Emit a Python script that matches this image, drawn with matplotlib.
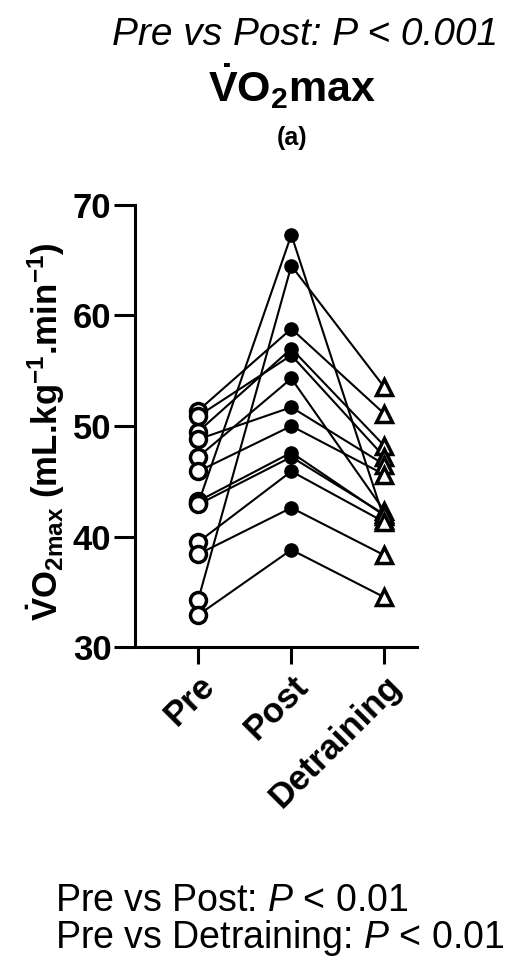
import matplotlib
matplotlib.use('Agg')
import matplotlib.pyplot as plt

plt.rcParams['font.family'] = ['Liberation Sans', 'DejaVu Sans']
plt.rcParams['mathtext.fontset'] = 'custom'
plt.rcParams['mathtext.rm'] = 'Liberation Sans:bold'
plt.rcParams['mathtext.it'] = 'Liberation Sans:italic'
plt.rcParams['mathtext.bf'] = 'Liberation Sans:bold'

# VO2max per participant (mL.kg-1.min-1)
groups = ['Pre', 'Post', 'Detraining']
pre = [43.0, 34.3, 51.4, 49.5, 50.9, 47.2, 48.8, 45.9, 43.2, 42.9, 39.5, 38.4, 32.9]
post = [67.3, 64.5, 58.8, 57.0, 56.4, 54.3, 51.7, 50.0, 47.6, 47.2, 45.9, 42.6, 38.8]
detraining = [41.5, 53.5, 51.1, 48.2, 47.2, 42.3, 46.5, 45.6, 41.9, 42.0, 41.3, 38.3, 34.5]

fig = plt.figure(figsize=(5.2, 9.66), dpi=100, facecolor='white')
ax = fig.add_axes([0.2596, 0.3302, 0.5423, 0.4576])

xs = [0, 1, 2]
for a, b, c in zip(pre, post, detraining):
    ax.plot(xs, [a, b, c], color='black', lw=1.5, zorder=2)

ax.plot([0] * len(pre), pre, ls='none', marker='o', ms=11.5, mfc='white',
        mec='black', mew=2.5, zorder=3)
ax.plot([1] * len(post), post, ls='none', marker='o', ms=9.5, mfc='black',
        mec='black', zorder=3)
ax.plot([2] * len(detraining), detraining, ls='none', marker='^', ms=11.5,
        mfc='white', mec='black', mew=2.5, zorder=3)

ax.set_xlim(-0.68, 2.35)
ax.set_ylim(30, 70)
ax.set_yticks([30, 40, 50, 60, 70])
ax.set_xticks(xs)
ax.set_xticklabels(groups, rotation=45, ha='right', rotation_mode='anchor',
                   fontsize=25, fontweight='bold')
for lab in ax.get_yticklabels():
    lab.set_fontsize(25)
    lab.set_fontweight('bold')

for side in ['top', 'right']:
    ax.spines[side].set_visible(False)
for side in ['left', 'bottom']:
    ax.spines[side].set_linewidth(2.2)
ax.tick_params(axis='y', length=15, width=2.2, pad=2)
ax.tick_params(axis='x', length=12, width=2.2, pad=4)

ax.set_ylabel(r'$\mathrm{\dot{V}O_{2max}}$ (mL.kg$^{\mathrm{-1}}$.min$^{\mathrm{-1}}$)',
              fontsize=25, fontweight='bold', va='center')
ax.yaxis.set_label_coords(-0.315, 0.487)

# titles above the panel
fig.text(305 / 520, 1 - 35 / 966, 'Pre vs Post: P < 0.001', fontsize=28,
         style='italic', ha='center', va='center')
fig.text(292 / 520, 1 - 86 / 966, r'$\mathrm{\dot{V}O_2}$max', fontsize=31,
         fontweight='bold', ha='center', va='center')
fig.text(292 / 520, 1 - 138 / 966, '(a)', fontsize=18, fontweight='bold',
         ha='center', va='center')

# comparisons below the panel
fig.text(55 / 520, 1 - 901 / 966, 'Pre vs Post: $\\mathit{P}$ < 0.01',
         fontsize=27, ha='left', va='center')
fig.text(55 / 520, 1 - 938 / 966, 'Pre vs Detraining: $\\mathit{P}$ < 0.01',
         fontsize=27, ha='left', va='center')

fig.savefig('out.png', dpi=100, facecolor='white')
